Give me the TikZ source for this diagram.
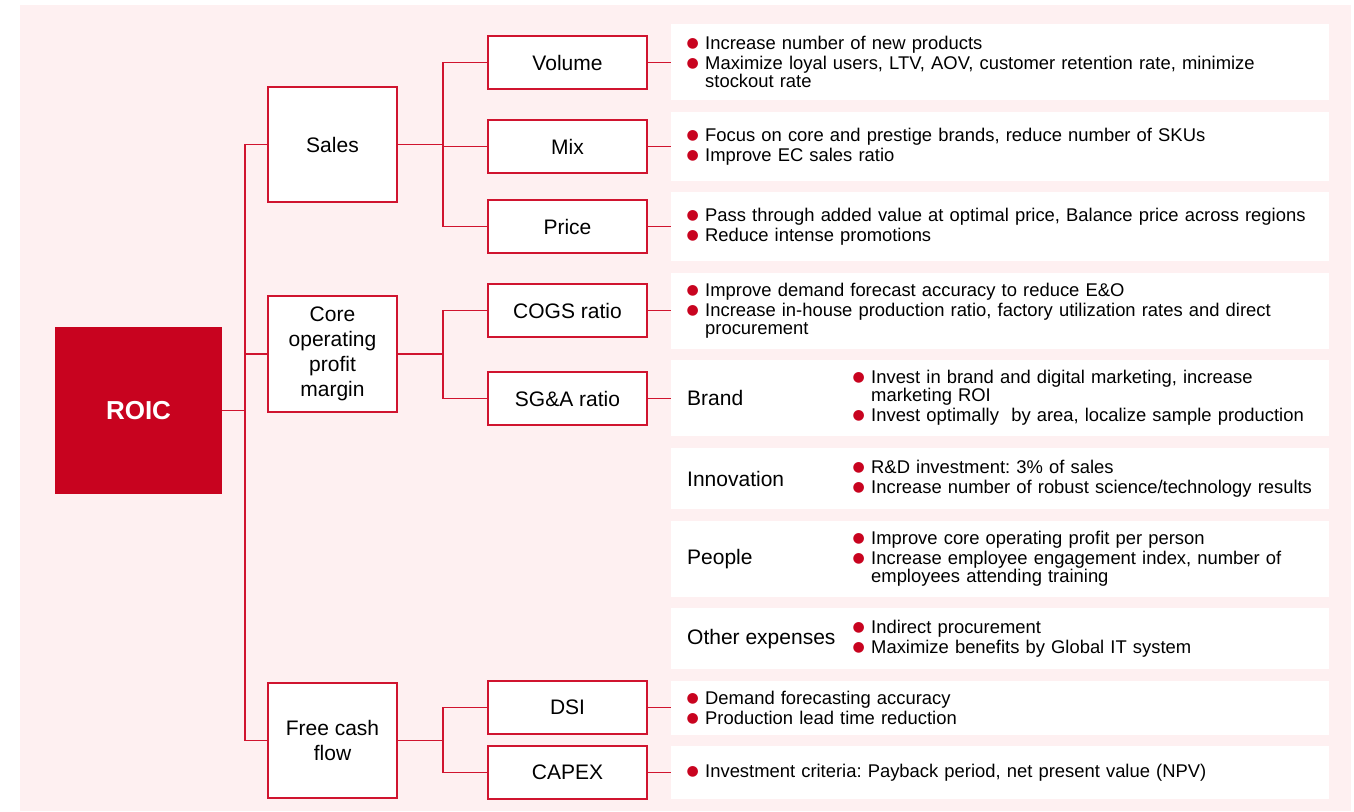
\documentclass[tikz,border=0pt]{standalone}
\usepackage{fontspec}
\setmainfont{Liberation Sans}
\newfontfamily\symfont{DejaVu Sans}
\definecolor{roic}{HTML}{C8031F}
\definecolor{bgpink}{HTML}{FEF0F1}
\definecolor{lnred}{HTML}{D0142F}
\frenchspacing
\newcommand\bdot{\raisebox{2.4pt}{\symfont\fontsize{14}{14}\selectfont\textcolor{roic}{●}}}
\newcommand\bitem[1]{\hangindent=18pt\hangafter=1\noindent\makebox[18pt][l]{\kern-0.5pt\bdot}#1\par}
\newcommand\bstart{\setlength{\parskip}{2pt}\frenchspacing}
\begin{document}
\begin{tikzpicture}[x=1pt,y=-1pt,
  box/.style={draw=lnred, line width=1.5pt, fill=white, align=center, inner sep=0pt,
    font=\fontsize{21}{25}\selectfont},
  tbox/.style={fill=white, inner sep=0pt, minimum width=658pt},
  conn/.style={draw=lnred, line width=1.4pt},
  btext/.style={anchor=west, inner sep=0pt, text width=640pt, align=left,
    font=\fontsize{18.4}{18}\selectfont},
  lab/.style={anchor=west, inner sep=0pt, font=\fontsize{21}{25}\selectfont}]
\useasboundingbox (0,0) rectangle (1354,811);
\fill[bgpink] (20,5) rectangle (1351,811);

% main box
\node[fill=roic, minimum width=167pt, minimum height=167pt, inner sep=0pt,
  text=white, font=\fontsize{26}{30}\selectfont\bfseries] (roic) at (138.5,410.5) {ROIC};

% level 1
\node[box, minimum width=129pt, minimum height=115pt] (sales) at (332.5,144.5) {Sales};
\node[box, minimum width=129pt, minimum height=116pt] (core) at (332.5,354) {Core\\operating\\profit\\margin};
\node[box, minimum width=129pt, minimum height=115pt] (fcf) at (332.5,740.5) {Free cash\\flow};

% level 2
\node[box, minimum width=159pt, minimum height=53pt] (volume) at (567.5,62.5) {Volume};
\node[box, minimum width=159pt, minimum height=53pt] (mix) at (567.5,146.5) {Mix};
\node[box, minimum width=159pt, minimum height=53pt] (price) at (567.5,226.5) {Price};
\node[box, minimum width=159pt, minimum height=53pt] (cogs) at (567.5,310.5) {COGS ratio};
\node[box, minimum width=159pt, minimum height=53pt] (sga) at (567.5,398.5) {SG\&A ratio};
\node[box, minimum width=159pt, minimum height=53pt] (dsi) at (567.5,707.5) {DSI};
\node[box, minimum width=159pt, minimum height=53pt] (capex) at (567.5,772.5) {CAPEX};

% text boxes
\node[tbox, minimum height=76pt, anchor=north west] (tvol) at (671,24) {};
\node[tbox, minimum height=69pt, anchor=north west] (tmix) at (671,112) {};
\node[tbox, minimum height=69pt, anchor=north west] (tprice) at (671,192) {};
\node[tbox, minimum height=76pt, anchor=north west] (tcogs) at (671,273) {};
\node[tbox, minimum height=76pt, anchor=north west] (tbrand) at (671,360) {};
\node[tbox, minimum height=61pt, anchor=north west] (tinno) at (671,448) {};
\node[tbox, minimum height=76pt, anchor=north west] (tpeople) at (671,521) {};
\node[tbox, minimum height=61pt, anchor=north west] (tother) at (671,608) {};
\node[tbox, minimum height=54pt, anchor=north west] (tdsi) at (671,681) {};
\node[tbox, minimum height=53pt, anchor=north west] (tcapex) at (671,746) {};

% texts
\node[btext] (xvol) at ([xshift=16pt]tvol.west) {\bstart
  \bitem{Increase number of new products}
  \bitem{Maximize loyal users, LTV, AOV, customer retention rate, minimize\newline stockout rate}};
\node[btext] (xmix) at ([xshift=16pt]tmix.west) {\bstart
  \bitem{Focus on core and prestige brands, reduce number of SKUs}
  \bitem{Improve EC sales ratio}};
\node[btext] (xprice) at ([xshift=16pt]tprice.west) {\bstart
  \bitem{Pass through added value at optimal price, Balance price across regions}
  \bitem{Reduce intense promotions}};
\node[btext] (xcogs) at ([xshift=16pt]tcogs.west) {\bstart
  \bitem{Improve demand forecast accuracy to reduce E\&O}
  \bitem{Increase in-house production ratio, factory utilization rates and direct\newline procurement}};

\node[lab] (lbrand) at ([xshift=16pt]tbrand.west) {Brand};
\node[btext, text width=470pt] (xbrand) at ([xshift=182pt]tbrand.west) {\bstart
  \bitem{Invest in brand and digital marketing, increase\newline marketing ROI}
  \bitem{Invest optimally \ by area, localize sample production}};
\node[lab] (linno) at ([xshift=16pt]tinno.west) {Innovation};
\node[btext, text width=470pt] (xinno) at ([xshift=182pt]tinno.west) {\bstart
  \bitem{R\&D investment: 3\% of sales}
  \bitem{Increase number of robust science/technology results}};
\node[lab] (lpeople) at ([xshift=16pt]tpeople.west) {People};
\node[btext, text width=470pt] (xpeople) at ([xshift=182pt]tpeople.west) {\bstart
  \bitem{Improve core operating profit per person}
  \bitem{Increase employee engagement index, number of\newline employees attending training}};
\node[lab] (lother) at ([xshift=16pt]tother.west) {Other expenses};
\node[btext, text width=470pt] (xother) at ([xshift=182pt]tother.west) {\bstart
  \bitem{Indirect procurement}
  \bitem{Maximize benefits by Global IT system}};

\node[btext] (xdsi) at ([xshift=16pt]tdsi.west) {\bstart
  \bitem{Demand forecasting accuracy}
  \bitem{Production lead time reduction}};
\node[btext] (xcapex) at ([xshift=16pt]tcapex.west) {\bstart
  \bitem{Investment criteria: Payback period, net present value (NPV)}};

% connectors
\coordinate (spx) at (245,0);
\coordinate (bx) at (443,0);
\draw[conn] (roic.east) -- (roic.east -| spx);
\draw[conn] (sales.west) -- (sales.west -| spx) -- (fcf.west -| spx) -- (fcf.west);
\draw[conn] (core.west) -- (core.west -| spx);

\draw[conn] (sales.east) -- (sales.east -| bx);
\draw[conn] (volume.west) -- (volume.west -| bx) -- (price.west -| bx) -- (price.west);
\draw[conn] (mix.west) -- (mix.west -| bx);

\draw[conn] (core.east) -- (core.east -| bx);
\draw[conn] (cogs.west) -- (cogs.west -| bx) -- (sga.west -| bx) -- (sga.west);

\draw[conn] (fcf.east) -- (fcf.east -| bx);
\draw[conn] (dsi.west) -- (dsi.west -| bx) -- (capex.west -| bx) -- (capex.west);

\draw[conn] (volume.east) -- (volume.east -| tvol.west);
\draw[conn] (mix.east) -- (mix.east -| tmix.west);
\draw[conn] (price.east) -- (price.east -| tprice.west);
\draw[conn] (cogs.east) -- (cogs.east -| tcogs.west);
\draw[conn] (sga.east) -- (sga.east -| tbrand.west);
\draw[conn] (dsi.east) -- (dsi.east -| tdsi.west);
\draw[conn] (capex.east) -- (capex.east -| tcapex.west);
\end{tikzpicture}
\end{document}
